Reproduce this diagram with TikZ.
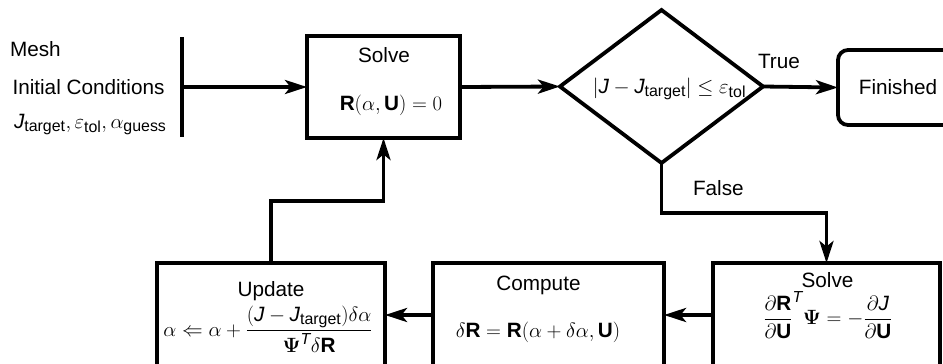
\documentclass[tikz,border=0pt]{standalone}
\usepackage{amsmath,amssymb}
\usepackage[no-math]{fontspec}
\setmainfont{Liberation Sans}
\usetikzlibrary{arrows.meta,shapes.geometric}
\DeclareMathSizes{20.8}{20.8}{16}{12}
\newcommand{\bR}{\text{\bfseries R}}
\newcommand{\bU}{\text{\bfseries U}}
\newcommand{\Jv}{\text{\itshape J}}
\newcommand{\sT}{\text{\itshape T}}
\begin{document}
\begin{tikzpicture}[x=1bp,y=-1bp,
  every node/.style={font=\fontsize{20.8}{25}\selectfont, inner sep=0pt, outer sep=0pt},
  ln/.style={line width=3.8bp},
  arr/.style={ln, -{Stealth[length=22bp,width=14bp,inset=5.5bp]}},
  pbox/.style={draw, ln, minimum width=#1, minimum height=104bp},
]
\useasboundingbox (0,0) rectangle (943,363);
\clip (0,0) rectangle (943,363);

% inputs
\node[anchor=base west] (mesh) at (10,56.5) {Mesh};
\node[anchor=base west] (ic) at (12.5,94) {Initial Conditions};
\node[anchor=base west] (par) at (14,128) {$\Jv_{\text{target}},\varepsilon_{\text{tol}},\alpha_{\text{guess}}$};
\coordinate (bt) at (182,37);
\coordinate (bb) at (182,137);
\coordinate (bm) at (182,87);
\draw[ln] (bt) -- (bb);

% solve primal
\node[draw, ln, minimum width=153bp, minimum height=102bp] (s1) at (383.5,87) {};
\node[anchor=base] (s1t) at (384,62) {Solve};
\node[anchor=base] (s1f) at (391,110) {$\bR(\alpha,\bU)=0$};

% decision
\node[draw, ln, diamond, minimum width=203bp, minimum height=153bp] (dec) at (661.5,86.5) {};
\node[anchor=base] (dt) at (669.5,93) {$|\Jv-\Jv_{\text{target}}|\le\varepsilon_{\text{tol}}$};
\node[anchor=base west] (tl) at (758,68) {True};
\node[anchor=base west] (fl) at (693,195) {False};

% finished
\node[draw, ln, rounded corners=10bp, minimum width=120bp, minimum height=75bp] (fin) at (898,87.5) {Finished};

% bottom row
\node[pbox=227bp] (adj) at (826.5,315) {};
\node[anchor=base] (adjt) at (827.5,287) {Solve};
\node[anchor=base] (adjf) at (828,324.5) {$\displaystyle \frac{\partial\bR}{\partial\bU}^{\sT}\boldsymbol{\Psi}=-\frac{\partial\Jv}{\partial\bU}$};

\node[pbox=231bp] (comp) at (548.5,315) {};
\node[anchor=base] (compt) at (538.5,290) {Compute};
\node[anchor=base] (compf) at (538,337) {$\delta\bR=\bR(\alpha+\delta\alpha,\bU)$};

\node[pbox=228bp] (upd) at (271,315) {};
\node[anchor=base] (updt) at (271,296) {Update};
\node[anchor=base] (updf) at (268,336) {$\displaystyle \alpha\Leftarrow\alpha+\frac{(\Jv-\Jv_{\text{target}})\delta\alpha}{\boldsymbol{\Psi}^{\sT}\delta\bR}$};

% connectors
\coordinate (fb) at (745,213);
\coordinate (ub) at (330,201);
\draw[arr] (bm) -- (s1.west);
\draw[arr] (s1.east) -- (dec.west);
\draw[arr] (dec.east) -- (fin.west);
\draw[arr] (dec.south) |- (fb) -| (adj.north);
\draw[arr] (adj.west) -- (comp.east);
\draw[arr] (comp.west) -- (upd.east);
\draw[arr] (upd.north) |- (ub) -| (s1.south);
\end{tikzpicture}
\end{document}
